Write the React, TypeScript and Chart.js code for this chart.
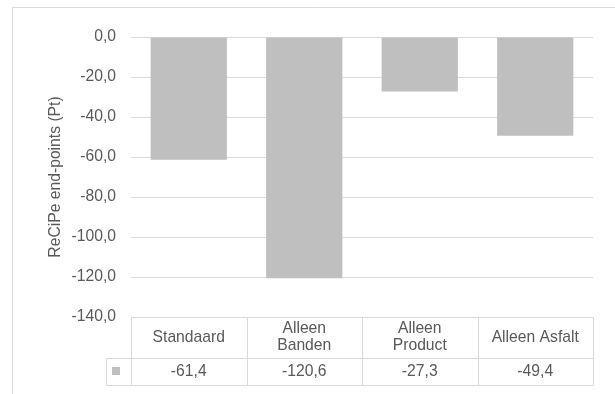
import React, { useEffect, useRef } from "react";
import { Chart, registerables } from "chart.js";

Chart.register(...registerables);

// Scenario names (table header) and their ReCiPe end-point scores
const categories: string[][] = [
  ["Standaard"],
  ["Alleen", "Banden"],
  ["Alleen", "Product"],
  ["Alleen Asfalt"],
];
const values: number[] = [-61.4, -120.6, -27.3, -49.4];
const yTicks: number[] = [0, -20, -40, -60, -80, -100, -120, -140];
const yTitle = "ReCiPe end-points (Pt)";

const FONT = "'Liberation Sans', Arial, sans-serif";
const FONT_SIZE = 15.7;
const TEXT = "#595959";
const GRID = "#D9D9D9";
const BAR = "#BFBFBF";

const fmt = (v: number) => v.toFixed(1).replace(".", ",");

// Outer frame of the chart
const framePlugin = {
  id: "frame",
  beforeDraw(chart: any) {
    const { ctx, width, height } = chart;
    ctx.save();
    ctx.fillStyle = "#FFFFFF";
    ctx.fillRect(0, 0, width, height);
    ctx.strokeStyle = GRID;
    ctx.lineWidth = 1;
    ctx.beginPath();
    ctx.moveTo(12.5, height);
    ctx.lineTo(12.5, 7.5);
    ctx.lineTo(width, 7.5);
    ctx.stroke();
    ctx.restore();
  },
};

// Data table drawn under the plot area, aligned to the category columns
const tablePlugin = {
  id: "dataTable",
  afterDraw(chart: any) {
    const { ctx, chartArea, scales } = chart;
    const xs = scales.x;
    const n = categories.length;
    const left = chartArea.left;
    const right = chartArea.right;
    const cw = (right - left) / n;
    const top = chartArea.bottom;
    const mid = top + 41;
    const bot = mid + 27;
    const keyLeft = left - 25;
    const p = (v: number) => Math.round(v) + 0.5;

    ctx.save();
    ctx.strokeStyle = GRID;
    ctx.lineWidth = 1;
    ctx.beginPath();
    ctx.moveTo(p(left), p(top));
    ctx.lineTo(p(right), p(top));
    ctx.moveTo(p(keyLeft), p(mid));
    ctx.lineTo(p(right), p(mid));
    ctx.moveTo(p(keyLeft), p(bot));
    ctx.lineTo(p(right), p(bot));
    for (let i = 0; i <= n; i++) {
      const x = p(left + i * cw);
      ctx.moveTo(x, p(top));
      ctx.lineTo(x, p(bot));
    }
    ctx.moveTo(p(keyLeft), p(mid));
    ctx.lineTo(p(keyLeft), p(bot));
    ctx.stroke();

    // legend key
    ctx.fillStyle = BAR;
    ctx.fillRect(Math.round(keyLeft) + 6, Math.round((mid + bot) / 2) - 5, 8, 8);

    ctx.fillStyle = TEXT;
    ctx.font = `${FONT_SIZE}px ${FONT}`;
    ctx.textAlign = "center";
    ctx.textBaseline = "middle";
    const lh = 17;
    categories.forEach((lines, i) => {
      const cx = xs.getPixelForValue(i);
      const cy = (top + mid) / 2;
      lines.forEach((line, j) => {
        ctx.fillText(line, cx, cy + (j - (lines.length - 1) / 2) * lh);
      });
    });
    values.forEach((v, i) => {
      ctx.fillText(fmt(v), xs.getPixelForValue(i), (mid + bot) / 2);
    });
    ctx.restore();
  },
};

export default function App() {
  const ref = useRef<HTMLCanvasElement | null>(null);

  useEffect(() => {
    if (!ref.current) return;
    const chart = new Chart(ref.current, {
      type: "bar",
      data: {
        labels: categories,
        datasets: [
          {
            label: "ReCiPe",
            data: values,
            backgroundColor: BAR,
            borderWidth: 0,
            barPercentage: 0.66,
            categoryPercentage: 1,
          },
        ],
      },
      options: {
        animation: false,
        responsive: false,
        maintainAspectRatio: false,
        layout: { padding: { left: 0, top: 37, right: 22, bottom: 77 } },
        plugins: {
          legend: { display: false },
          tooltip: { enabled: false },
        },
        scales: {
          x: { display: false },
          y: {
            min: Math.min(...yTicks),
            max: Math.max(...yTicks),
            ticks: {
              stepSize: yTicks[0] - yTicks[1],
              padding: 15,
              color: TEXT,
              font: { family: FONT, size: FONT_SIZE },
              callback: (v: any) => fmt(Number(v)),
            },
            grid: { color: GRID, lineWidth: 1, drawTicks: false },
            border: { display: false },
            title: {
              display: true,
              text: yTitle,
              color: TEXT,
              font: { family: FONT, size: FONT_SIZE },
              padding: { top: 46, bottom: 0 },
            },
            afterFit: (scale: any) => {
              scale.width = 131;
            },
          },
        },
      },
      plugins: [framePlugin, tablePlugin],
    });
    return () => chart.destroy();
  }, []);

  return (
    <div style={{ position: "fixed", left: 0, top: 0, width: 615, height: 394 }}>
      <canvas ref={ref} width={615} height={394} style={{ display: "block" }} />
    </div>
  );
}
